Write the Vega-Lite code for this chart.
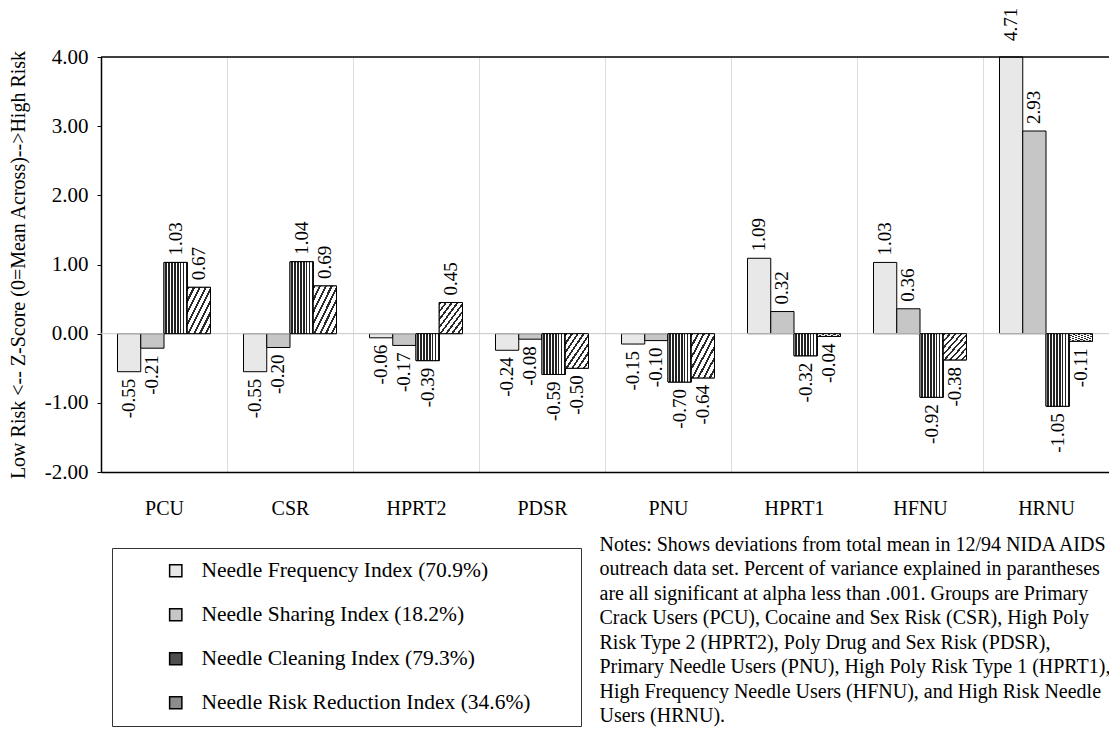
{
  "$schema": "https://vega.github.io/schema/vega-lite/v6.json",
  "width": 1008,
  "height": 415,
  "autosize": {"type": "none"},
  "padding": {"left": 101, "top": 57, "right": 0, "bottom": 257},
  "background": "white",
  "config": {
    "view": {"stroke": null},
    "font": "Liberation Serif",
    "locale": {"number": {"decimal": ".", "thousands": ",", "grouping": [3], "currency": ["$", ""], "minus": "-"}}
  },
  "data": {
    "values": [
      {"group": "PCU", "series": "Needle Frequency Index (70.9%)", "value": -0.55},
      {"group": "PCU", "series": "Needle Sharing Index (18.2%)", "value": -0.21},
      {"group": "PCU", "series": "Needle Cleaning Index (79.3%)", "value": 1.03},
      {"group": "PCU", "series": "Needle Risk Reduction Index (34.6%)", "value": 0.67},
      {"group": "CSR", "series": "Needle Frequency Index (70.9%)", "value": -0.55},
      {"group": "CSR", "series": "Needle Sharing Index (18.2%)", "value": -0.20},
      {"group": "CSR", "series": "Needle Cleaning Index (79.3%)", "value": 1.04},
      {"group": "CSR", "series": "Needle Risk Reduction Index (34.6%)", "value": 0.69},
      {"group": "HPRT2", "series": "Needle Frequency Index (70.9%)", "value": -0.06},
      {"group": "HPRT2", "series": "Needle Sharing Index (18.2%)", "value": -0.17},
      {"group": "HPRT2", "series": "Needle Cleaning Index (79.3%)", "value": -0.39},
      {"group": "HPRT2", "series": "Needle Risk Reduction Index (34.6%)", "value": 0.45},
      {"group": "PDSR", "series": "Needle Frequency Index (70.9%)", "value": -0.24},
      {"group": "PDSR", "series": "Needle Sharing Index (18.2%)", "value": -0.08},
      {"group": "PDSR", "series": "Needle Cleaning Index (79.3%)", "value": -0.59},
      {"group": "PDSR", "series": "Needle Risk Reduction Index (34.6%)", "value": -0.50},
      {"group": "PNU", "series": "Needle Frequency Index (70.9%)", "value": -0.15},
      {"group": "PNU", "series": "Needle Sharing Index (18.2%)", "value": -0.10},
      {"group": "PNU", "series": "Needle Cleaning Index (79.3%)", "value": -0.70},
      {"group": "PNU", "series": "Needle Risk Reduction Index (34.6%)", "value": -0.64},
      {"group": "HPRT1", "series": "Needle Frequency Index (70.9%)", "value": 1.09},
      {"group": "HPRT1", "series": "Needle Sharing Index (18.2%)", "value": 0.32},
      {"group": "HPRT1", "series": "Needle Cleaning Index (79.3%)", "value": -0.32},
      {"group": "HPRT1", "series": "Needle Risk Reduction Index (34.6%)", "value": -0.04},
      {"group": "HFNU", "series": "Needle Frequency Index (70.9%)", "value": 1.03},
      {"group": "HFNU", "series": "Needle Sharing Index (18.2%)", "value": 0.36},
      {"group": "HFNU", "series": "Needle Cleaning Index (79.3%)", "value": -0.92},
      {"group": "HFNU", "series": "Needle Risk Reduction Index (34.6%)", "value": -0.38},
      {"group": "HRNU", "series": "Needle Frequency Index (70.9%)", "value": 4.71},
      {"group": "HRNU", "series": "Needle Sharing Index (18.2%)", "value": 2.93},
      {"group": "HRNU", "series": "Needle Cleaning Index (79.3%)", "value": -1.05},
      {"group": "HRNU", "series": "Needle Risk Reduction Index (34.6%)", "value": -0.11}
    ]
  },
  "layer": [
    {
      "mark": {"type": "bar", "stroke": "#000", "strokeWidth": 1},
      "encoding": {
        "x": {
          "field": "group", "type": "nominal", "sort": null,
          "scale": {"paddingInner": 0, "paddingOuter": 0},
          "axis": {
            "title": [
              "Notes:  Shows deviations from total mean in 12/94 NIDA AIDS",
              "outreach data set.  Percent of variance explained in parantheses",
              "are all significant at alpha less than .001.  Groups are Primary",
              "Crack Users (PCU), Cocaine and Sex Risk (CSR), High Poly",
              "Risk Type 2 (HPRT2), Poly Drug and Sex Risk  (PDSR),",
              "Primary Needle Users (PNU), High Poly Risk Type 1 (HPRT1),",
              "High Frequency Needle Users (HFNU), and High Risk Needle",
              "Users (HRNU)."
            ],
            "titleX": 498, "titleY": 62, "titleAlign": "left", "titleBaseline": "top", "titleAnchor": "start",
            "titleFont": "Liberation Serif", "titleFontSize": 20, "titleFontWeight": "normal",
            "titleLineHeight": 24.5, "titleColor": "#000",
            "labelFont": "Liberation Serif", "labelFontSize": 20, "labelColor": "#000",
            "labelPadding": 26, "labelAngle": 0, "ticks": false,
            "domain": true, "domainColor": "#000", "domainWidth": 1.5,
            "grid": true, "gridColor": "#dddddd", "gridWidth": 1, "tickBand": "extent"
          }
        },
        "xOffset": {"field": "series", "type": "nominal", "sort": null, "scale": {"paddingInner": 0, "paddingOuter": 0.71}},
        "y": {
          "field": "value", "type": "quantitative",
          "scale": {"domain": [-2, 4], "clamp": true, "nice": false, "zero": false},
          "axis": {
            "title": "Low Risk <-- Z-Score (0=Mean Across)-->High Risk",
            "titleX": -83, "titleY": 207.5, "titleAngle": 270, "titleAlign": "center", "titleBaseline": "middle",
            "titleFont": "Liberation Serif", "titleFontSize": 20, "titleFontWeight": "normal", "titleColor": "#000",
            "values": [-2, -1, 0, 1, 2, 3, 4], "format": ".2f",
            "labelFont": "Liberation Serif", "labelFontSize": 21, "labelColor": "#000", "labelPadding": 9,
            "tickSize": 4, "tickColor": "#000", "domainColor": "#000", "domainWidth": 1.5, "grid": false
          }
        },
        "fill": {
          "field": "series", "type": "nominal", "sort": null,
          "scale": {"range": ["#e8e8e8", "#c6c6c6", "#4d4d4d", "#8c8c8c"]},
          "legend": {
            "orient": "none", "legendX": 11, "legendY": 491, "title": null,
            "labelFont": "Liberation Serif", "labelFontSize": 21.5, "labelColor": "#000", "labelLimit": 700,
            "labelExpr": "datum.label + '\u00a0\u00a0\u00a0\u00a0\u00a0\u00a0\u00a0\u200b'",
            "symbolType": "square", "symbolSize": 150, "symbolStrokeColor": "#000", "symbolStrokeWidth": 1.5,
            "symbolOffset": 41, "labelOffset": 15, "rowPadding": 21, "padding": 12,
            "strokeColor": "#333"
          }
        }
      }
    },
    {
      "data": {"values": [{"ref": "zero"}]},
      "mark": {"type": "rule", "color": "#c8c8c8", "strokeWidth": 1},
      "encoding": {"y": {"datum": 0, "type": "quantitative"}}
    },
    {
      "transform": [{"filter": "datum.series === 'Needle Cleaning Index (79.3%)' || datum.series === 'Needle Risk Reduction Index (34.6%)'"}],
      "mark": {"type": "bar", "stroke": "#000", "strokeWidth": 1},
      "encoding": {
        "x": {"field": "group", "type": "nominal", "sort": null},
        "xOffset": {"field": "series", "type": "nominal", "sort": null},
        "y": {"field": "value", "type": "quantitative"},
        "fill": {
          "condition": {
            "test": "datum.series === 'Needle Cleaning Index (79.3%)'",
            "value": {
              "gradient": "linear", "x1": 0, "y1": 0, "x2": 1, "y2": 0,
              "stops": [
                {"offset": 0, "color": "#ffffff"}, {"offset": 0.0625, "color": "#ffffff"}, {"offset": 0.0625, "color": "#222222"}, {"offset": 0.125, "color": "#222222"},
                {"offset": 0.125, "color": "#ffffff"}, {"offset": 0.1875, "color": "#ffffff"}, {"offset": 0.1875, "color": "#222222"}, {"offset": 0.25, "color": "#222222"},
                {"offset": 0.25, "color": "#ffffff"}, {"offset": 0.3125, "color": "#ffffff"}, {"offset": 0.3125, "color": "#222222"}, {"offset": 0.375, "color": "#222222"},
                {"offset": 0.375, "color": "#ffffff"}, {"offset": 0.4375, "color": "#ffffff"}, {"offset": 0.4375, "color": "#222222"}, {"offset": 0.5, "color": "#222222"},
                {"offset": 0.5, "color": "#ffffff"}, {"offset": 0.5625, "color": "#ffffff"}, {"offset": 0.5625, "color": "#222222"}, {"offset": 0.625, "color": "#222222"},
                {"offset": 0.625, "color": "#ffffff"}, {"offset": 0.6875, "color": "#ffffff"}, {"offset": 0.6875, "color": "#222222"}, {"offset": 0.75, "color": "#222222"},
                {"offset": 0.75, "color": "#ffffff"}, {"offset": 0.8125, "color": "#ffffff"}, {"offset": 0.8125, "color": "#222222"}, {"offset": 0.875, "color": "#222222"},
                {"offset": 0.875, "color": "#ffffff"}, {"offset": 0.9375, "color": "#ffffff"}, {"offset": 0.9375, "color": "#222222"}, {"offset": 1, "color": "#222222"}
              ]
            }
          },
          "value": {
            "gradient": "linear", "x1": 0, "y1": 0, "x2": 1, "y2": 1,
            "stops": [
              {"offset": 0, "color": "#2a2a2a"}, {"offset": 0.045, "color": "#2a2a2a"}, {"offset": 0.045, "color": "#ffffff"}, {"offset": 0.125, "color": "#ffffff"},
              {"offset": 0.125, "color": "#2a2a2a"}, {"offset": 0.17, "color": "#2a2a2a"}, {"offset": 0.17, "color": "#ffffff"}, {"offset": 0.25, "color": "#ffffff"},
              {"offset": 0.25, "color": "#2a2a2a"}, {"offset": 0.295, "color": "#2a2a2a"}, {"offset": 0.295, "color": "#ffffff"}, {"offset": 0.375, "color": "#ffffff"},
              {"offset": 0.375, "color": "#2a2a2a"}, {"offset": 0.42, "color": "#2a2a2a"}, {"offset": 0.42, "color": "#ffffff"}, {"offset": 0.5, "color": "#ffffff"},
              {"offset": 0.5, "color": "#2a2a2a"}, {"offset": 0.545, "color": "#2a2a2a"}, {"offset": 0.545, "color": "#ffffff"}, {"offset": 0.625, "color": "#ffffff"},
              {"offset": 0.625, "color": "#2a2a2a"}, {"offset": 0.67, "color": "#2a2a2a"}, {"offset": 0.67, "color": "#ffffff"}, {"offset": 0.75, "color": "#ffffff"},
              {"offset": 0.75, "color": "#2a2a2a"}, {"offset": 0.795, "color": "#2a2a2a"}, {"offset": 0.795, "color": "#ffffff"}, {"offset": 0.875, "color": "#ffffff"},
              {"offset": 0.875, "color": "#2a2a2a"}, {"offset": 0.92, "color": "#2a2a2a"}, {"offset": 0.92, "color": "#ffffff"}, {"offset": 1, "color": "#ffffff"}
            ]
          }
        }
      }
    },
    {
      "data": {"values": [{"ref": "top"}]},
      "mark": {"type": "rule", "color": "#000", "strokeWidth": 1.5},
      "encoding": {"y": {"datum": 4, "type": "quantitative"}}
    },
    {
      "transform": [{"filter": "datum.value >= 0 && datum.value <= 4"}],
      "mark": {"type": "text", "angle": 270, "align": "left", "baseline": "middle", "dx": 7, "font": "Liberation Serif", "fontSize": 19, "color": "#000"},
      "encoding": {
        "x": {"field": "group", "type": "nominal", "sort": null},
        "xOffset": {"field": "series", "type": "nominal", "sort": null},
        "y": {"field": "value", "type": "quantitative"},
        "text": {"field": "value", "type": "quantitative", "format": ".2f"}
      }
    },
    {
      "transform": [{"filter": "datum.value > 4"}],
      "mark": {"type": "text", "angle": 270, "align": "left", "baseline": "middle", "dx": 16, "font": "Liberation Serif", "fontSize": 19, "color": "#000"},
      "encoding": {
        "x": {"field": "group", "type": "nominal", "sort": null},
        "xOffset": {"field": "series", "type": "nominal", "sort": null},
        "y": {"field": "value", "type": "quantitative"},
        "text": {"field": "value", "type": "quantitative", "format": ".2f"}
      }
    },
    {
      "transform": [{"filter": "datum.value < 0"}],
      "mark": {"type": "text", "angle": 270, "align": "right", "baseline": "middle", "dx": -7, "font": "Liberation Serif", "fontSize": 19, "color": "#000"},
      "encoding": {
        "x": {"field": "group", "type": "nominal", "sort": null},
        "xOffset": {"field": "series", "type": "nominal", "sort": null},
        "y": {"field": "value", "type": "quantitative"},
        "text": {"field": "value", "type": "quantitative", "format": ".2f"}
      }
    }
  ]
}
